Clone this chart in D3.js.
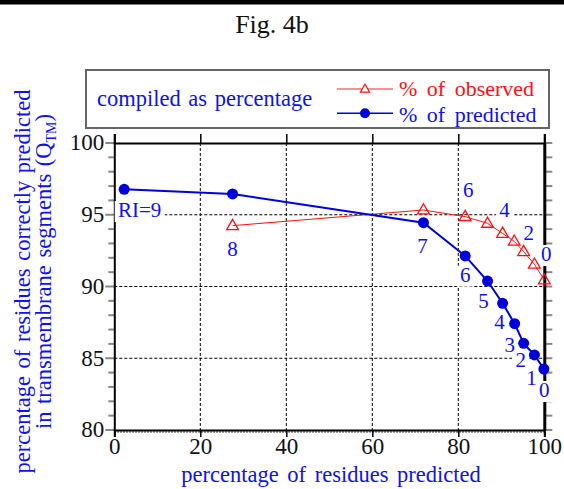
<!DOCTYPE html>
<html>
<head>
<meta charset="utf-8">
<script src="https://cdn.jsdelivr.net/npm/d3@7"></script>
<style>
  html, body { margin: 0; padding: 0; background: #fff; }
  svg { display: block; }
  svg text { font-family: "Liberation Serif", "Times New Roman", serif; }
</style>
</head>
<body>
<svg id="chart" width="564" height="489"></svg>
<script>
// ---- data ----
const xTicks = [0, 20, 40, 60, 80, 100];
const yTicks = [80, 85, 90, 95, 100];
const xGrid = [20, 40, 60, 80];
const yGrid = [85, 90, 95];

const riPred = [9, 8, 7, 6, 5, 4, 3, 2, 1, 0];
const predX = [2.3, 27.5, 71.9, 81.6, 86.8, 90.3, 93.1, 95.2, 97.7, 99.9];
const predY = [96.77, 96.45, 94.45, 92.13, 90.38, 88.83, 87.41, 86.04, 85.23, 84.25];

const riObs = [8, 7, 6, 5, 4, 3, 2, 1, 0];
const obsX = [27.5, 71.9, 81.6, 86.8, 90.3, 93.0, 95.2, 97.7, 100];
const obsY = [94.24, 95.33, 94.87, 94.40, 93.70, 93.15, 92.43, 91.55, 90.45];

// point labels: which series, which RI, text
const labelSeries = ["pred", "pred", "pred", "pred", "pred", "pred", "pred", "pred", "pred", "obs", "obs", "obs", "obs", "obs"];
const labelRI = [9, 7, 6, 5, 4, 3, 2, 1, 0, 8, 6, 4, 2, 0];
const labelText = ["RI=9", "7", "6", "5", "4", "3", "2", "1", "0", "8", "6", "4", "2", "0"];
// label placement offsets (pixels, relative to point)
const labelDX = [15.5, -1, 0, -4, -3, -5, -3, -3, 0.5, 0, 3, 2, 5, 2];
const labelDY = [27.7, 30, 25.7, 27, 26, 28, 24, 30, 28, 30, -20, -16, -12, -19];

// ---- drawing ----
const svg = d3.select("#chart");
const FONT = "Liberation Serif, Times New Roman, serif";
const BLUE = "#0000dd", BLUE_TXT = "#1010f0", RED = "#ff1010";

const x = d3.scaleLinear().domain([0, 100]).range([114.3, 544.3]);
const y = d3.scaleLinear().domain([80, 100]).range([430, 143]);

// top bar
svg.append("rect").attr("x", 0).attr("y", 0).attr("width", 564).attr("height", 4.5).attr("fill", "#000");

// title
svg.append("text").attr("x", 272).attr("y", 33).attr("text-anchor", "middle").attr("font-family", FONT)
  .attr("font-size", 26).attr("fill", "#111").text("Fig. 4b");

// legend box
const lg = svg.append("g").attr("font-family", FONT);
lg.append("rect").attr("x", 86).attr("y", 70).attr("width", 463).attr("height", 58)
  .attr("fill", "#fff").attr("stroke", "#666").attr("stroke-width", 2);
lg.append("text").attr("x", 97).attr("y", 105.5).attr("font-size", 22.5).attr("fill", BLUE_TXT)
  .attr("word-spacing", 2).text("compiled as percentage");
lg.append("line").attr("x1", 337).attr("x2", 393).attr("y1", 89).attr("y2", 89)
  .attr("stroke", "#f07070").attr("stroke-width", 1.5);
lg.append("path").attr("d", d3.symbol(d3.symbolTriangle, 36)())
  .attr("transform", "translate(365,89.5)").attr("fill", "#fff").attr("stroke", RED).attr("stroke-width", 1.2);
lg.append("text").attr("x", 399).attr("y", 96).attr("font-size", 22).attr("fill", RED)
  .attr("word-spacing", 4).text("% of observed");
lg.append("line").attr("x1", 337).attr("x2", 393).attr("y1", 113.3).attr("y2", 113.3)
  .attr("stroke", BLUE).attr("stroke-width", 1.6);
lg.append("circle").attr("cx", 365).attr("cy", 113.3).attr("r", 5).attr("fill", BLUE);
lg.append("text").attr("x", 399).attr("y", 122).attr("font-size", 22).attr("fill", BLUE_TXT)
  .attr("word-spacing", 4).text("% of predicted");

// gridlines
const grid = svg.append("g").attr("stroke", "#000").attr("stroke-width", 1).attr("stroke-dasharray", "3,2");
grid.selectAll(".vg").data(xGrid).join("line")
  .attr("x1", d => x(d)).attr("x2", d => x(d)).attr("y1", y(100)).attr("y2", y(80));
grid.selectAll(".hg").data(yGrid).join("line")
  .attr("x1", x(0)).attr("x2", x(100)).attr("y1", d => y(d)).attr("y2", d => y(d));
grid.append("line").attr("x1", x(0)).attr("x2", x(100)).attr("y1", y(80) + 2).attr("y2", y(80) + 2)
  .attr("stroke-dasharray", "1.5,1.5");

// minor y ticks (gray), left and right
const minorY = d3.range(80, 100.5, 1);
svg.append("g").selectAll("line").data(minorY).join("line")
  .attr("x1", d => x(0) - (d % 5 === 0 ? 9 : 6)).attr("x2", x(0))
  .attr("y1", d => y(d)).attr("y2", d => y(d))
  .attr("stroke", "#888").attr("stroke-width", 2);
svg.append("g").selectAll("line").data(minorY).join("line")
  .attr("x1", x(100)).attr("x2", x(100) + 8)
  .attr("y1", d => y(d)).attr("y2", d => y(d))
  .attr("stroke", "#888").attr("stroke-width", 2);

// bottom axis
const bottomAxis = d3.axisBottom(x).tickValues(xTicks).tickSize(7).tickPadding(4).tickFormat(d3.format("d"));
const gb = svg.append("g").attr("transform", `translate(0,${y(80)})`).call(bottomAxis).attr("font-family", FONT);
gb.select(".domain").attr("stroke", "#000").attr("stroke-width", 2);
gb.selectAll(".tick line").attr("stroke", "#000").attr("stroke-width", 1.5);
gb.selectAll(".tick text").attr("font-size", 23).attr("fill", "#111")
  .attr("dy", "0.71em").attr("y", 8);

// top axis
const topAxis = d3.axisTop(x).tickValues(xTicks).tickSize(9).tickFormat("");
const gt = svg.append("g").attr("transform", `translate(0,${y(100)})`).call(topAxis);
gt.select(".domain").attr("stroke", "#000").attr("stroke-width", 2.2);
gt.selectAll(".tick line").attr("stroke", "#000").attr("stroke-width", 1.5);

// left axis
const leftAxis = d3.axisLeft(y).tickValues(yTicks).tickSize(0).tickPadding(10).tickFormat(d3.format("d"));
const gl = svg.append("g").attr("transform", `translate(${x(0)},0)`).call(leftAxis).attr("font-family", FONT);
gl.select(".domain").attr("stroke", "#000").attr("stroke-width", 2);
gl.selectAll(".tick text").attr("font-size", 23).attr("fill", "#111")
  .attr("dy", "0.3em");

// right axis
const gr = svg.append("g").attr("transform", `translate(${x(100)},0)`)
  .call(d3.axisRight(y).tickValues([]).tickSize(0));
gr.select(".domain").attr("stroke", "#000").attr("stroke-width", 3);

// axis titles
const titles = svg.append("g").attr("font-family", FONT).attr("fill", BLUE_TXT).attr("font-size", 22.5);
titles.append("text").attr("x", 331).attr("y", 482).attr("text-anchor", "middle")
  .attr("word-spacing", 3).text("percentage of residues predicted");
titles.append("text").attr("transform", "translate(30,281.5) rotate(-90)")
  .attr("text-anchor", "middle").attr("word-spacing", 2)
  .text("percentage of residues correctly predicted");
const yt2 = titles.append("text").attr("transform", "translate(51,271.5) rotate(-90)")
  .attr("text-anchor", "middle").attr("word-spacing", 2);
yt2.append("tspan").text("in transmembrane segments (Q");
yt2.append("tspan").attr("font-size", 14).attr("dy", 5).text("TM");
yt2.append("tspan").attr("dy", -5).text(")");

// point labels with white background boxes
const ptX = (s, ri) => s === "pred" ? predX[riPred.indexOf(ri)] : obsX[riObs.indexOf(ri)];
const ptY = (s, ri) => s === "pred" ? predY[riPred.indexOf(ri)] : obsY[riObs.indexOf(ri)];
const labels = labelText.map((t, i) => ({
  t, cx: x(ptX(labelSeries[i], labelRI[i])) + labelDX[i], by: y(ptY(labelSeries[i], labelRI[i])) + labelDY[i]
}));
const lgG = svg.append("g").attr("font-family", FONT);
lgG.selectAll("rect").data(labels).join("rect")
  .attr("x", d => d.cx - (d.t.length * 5.5 + 3)).attr("y", d => d.by - 16)
  .attr("width", d => d.t.length * 11 + 6).attr("height", 21).attr("fill", "#fff");
lgG.selectAll("text").data(labels).join("text")
  .attr("x", d => d.cx).attr("y", d => d.by).attr("text-anchor", "middle")
  .attr("font-size", 21).attr("fill", BLUE_TXT).text(d => d.t);

// observed series (red)
const obsPts = obsX.map((v, i) => [v, obsY[i]]);
svg.append("path").datum(obsPts)
  .attr("d", d3.line().x(d => x(d[0])).y(d => y(d[1])))
  .attr("fill", "none").attr("stroke", RED).attr("stroke-width", 1);
svg.append("g").selectAll("path").data(obsPts).join("path")
  .attr("d", d3.symbol(d3.symbolTriangle, 60)())
  .attr("transform", d => `translate(${x(d[0])},${y(d[1]) + 0.5})`)
  .attr("fill", "none").attr("stroke", RED).attr("stroke-width", 1.3);

// predicted series (blue)
const predPts = predX.map((v, i) => [v, predY[i]]);
svg.append("path").datum(predPts)
  .attr("d", d3.line().x(d => x(d[0])).y(d => y(d[1])))
  .attr("fill", "none").attr("stroke", BLUE).attr("stroke-width", 2);
svg.append("g").selectAll("circle").data(predPts).join("circle")
  .attr("cx", d => x(d[0])).attr("cy", d => y(d[1])).attr("r", 5.5).attr("fill", BLUE);
</script>
</body>
</html>
